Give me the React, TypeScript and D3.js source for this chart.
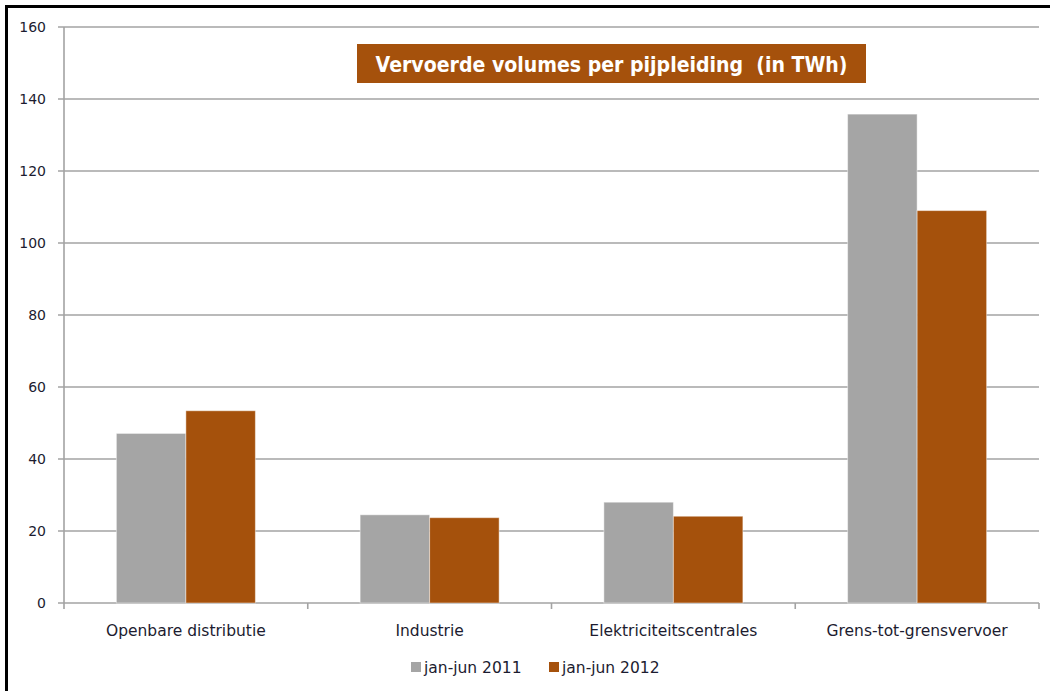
import React from "react";
import * as d3 from "d3";

const categories = ["Openbare distributie", "Industrie", "Elektriciteitscentrales", "Grens-tot-grensvervoer"];
const series2011 = [47.1, 24.5, 28.0, 135.8];
const series2012 = [53.4, 23.7, 24.1, 109.0];
const seriesNames = ["jan-jun 2011", "jan-jun 2012"];
const yTicks = [0, 20, 40, 60, 80, 100, 120, 140, 160];
const title = "Vervoerde volumes per pijpleiding  (in TWh)";

const W = 1050, H = 691;
const left = 64, right = 1039, top = 27, bottom = 603;
const GRAY = "#a5a5a5";
const ORANGE = "#a5510c";
const TEXT = "#1c1c30";
const GRID = "#a3a3a3";
const FONT = "'DejaVu Sans', sans-serif";

export default function App() {
  const x = d3.scaleBand<string>().domain(categories).range([left, right]).paddingInner(0).paddingOuter(0);
  const groupPad = (x.bandwidth() - 139) / 2;
  const sub = d3.scaleBand<string>().domain(seriesNames).range([groupPad, x.bandwidth() - groupPad]).padding(0);
  const y = d3.scaleLinear().domain([0, 160]).range([bottom, top]);
  const data = [series2011, series2012];
  const colors = [GRAY, ORANGE];

  return (
    <svg width={W} height={H} style={{ position: "absolute", left: 0, top: 0, background: "#fff" }}>
      <rect x={0} y={0} width={W} height={H} fill="#fff" />
      <rect x={6.5} y={6.5} width={W + 20} height={H + 20} fill="none" stroke="#000" strokeWidth={3} />
      {yTicks.map((t) => (
        <g key={t}>
          <line x1={left - 6} x2={right} y1={y(t)} y2={y(t)} stroke={GRID} strokeWidth={1.6} />
          <text x={46} y={y(t) + 5} textAnchor="end" fontFamily={FONT} fontSize={14} fill={TEXT}>{t}</text>
        </g>
      ))}
      <line x1={left} x2={left} y1={top} y2={bottom} stroke={GRID} strokeWidth={1.6} />
      {[...categories.map((c) => x(c) as number), right].map((px, i) => (
        <line key={i} x1={px} x2={px} y1={bottom} y2={bottom + 6} stroke={GRID} strokeWidth={1.6} />
      ))}
      {data.map((s, si) =>
        s.map((v, i) => (
          <rect
            key={si + "-" + i}
            x={(x(categories[i]) as number) + (sub(seriesNames[si]) as number)}
            y={y(v)}
            width={sub.bandwidth()}
            height={bottom - y(v)}
            fill={colors[si]}
            stroke="#fff"
            strokeOpacity={0.45}
            strokeWidth={1}
          />
        ))
      )}
      {categories.map((c) => (
        <text key={c} x={(x(c) as number) + x.bandwidth() / 2} y={636} textAnchor="middle" fontFamily={FONT} fontSize={15.5} fill={TEXT}>{c}</text>
      ))}
      <rect x={357} y={44} width={509} height={39} fill={ORANGE} />
      <text x={611.5} y={72} textAnchor="middle" fontFamily={FONT} fontWeight="bold" fontSize={21} fill="#fff" textLength={472} lengthAdjust="spacingAndGlyphs" style={{ whiteSpace: "pre" }}>{title}</text>
      {seriesNames.map((n, i) => {
        const lx = [411, 549][i];
        return (
          <g key={n}>
            <rect x={lx} y={662} width={10} height={10} fill={colors[i]} />
            <text x={lx + 13} y={673} fontFamily={FONT} fontSize={15.5} fill={TEXT}>{n}</text>
          </g>
        );
      })}
    </svg>
  );
}
